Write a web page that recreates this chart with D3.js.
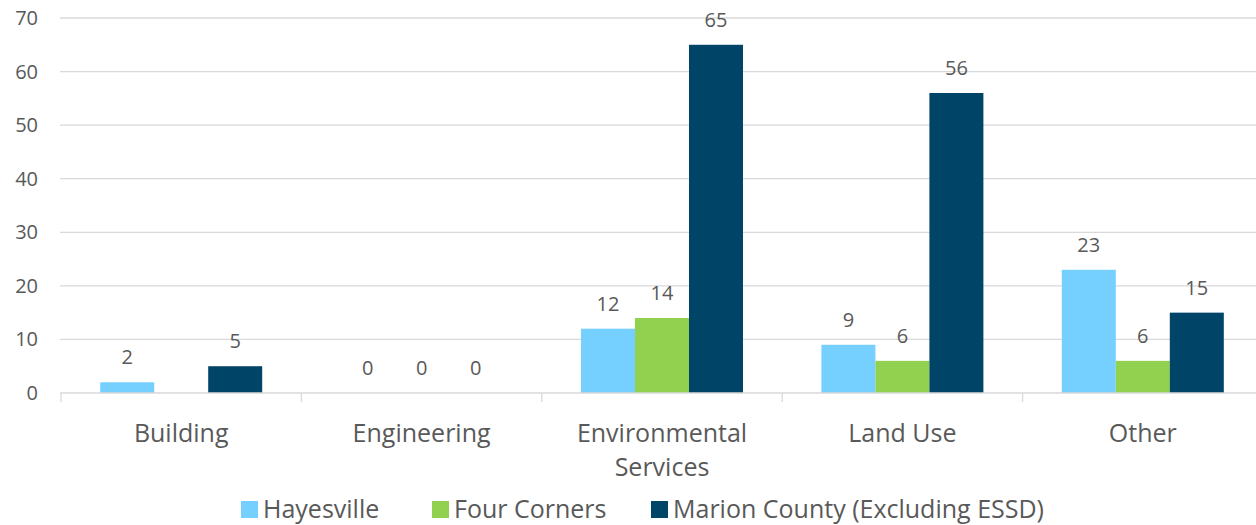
<!DOCTYPE html>
<html><head><meta charset="utf-8">
<script src="https://cdn.jsdelivr.net/npm/d3@7"></script>
<style>body{margin:0;background:#fff;} text{font-family:"Open Sans","Noto Sans",sans-serif;fill:#595959;}</style>
</head><body>
<svg id="c" width="1256" height="525"></svg>
<script>
const categories = [["Building"],["Engineering"],["Environmental","Services"],["Land Use"],["Other"]];
const series = ["Hayesville","Four Corners","Marion County (Excluding ESSD)"];
const hayesville = [2,0,12,9,23];
const fourCorners = [null,0,14,6,6];
const marion = [5,0,65,56,15];
const yTicks = [0,10,20,30,40,50,60,70];
const colors = ["#75D0FF","#92D050","#004468"];

(function(){
const svg = d3.select("#c");
const pLeft = 61, pRight = 1263, pTop = 18, pBottom = 393;
const x = d3.scaleBand().domain(d3.range(categories.length)).range([pLeft,pRight]).paddingInner(0).paddingOuter(0);
const y = d3.scaleLinear().domain([0,70]).range([pBottom,pTop]);
const gw = 162;
const xs = d3.scaleBand().domain(d3.range(series.length)).range([0,gw]);
const data = [hayesville,fourCorners,marion];

svg.append("g").selectAll("line").data(yTicks.filter(d=>d>0)).join("line")
  .attr("x1",pLeft-1).attr("x2",1256).attr("y1",d=>y(d)).attr("y2",d=>y(d))
  .attr("stroke","#d9d9d9").attr("stroke-width",1.3);
svg.append("g").selectAll("text").data(yTicks).join("text")
  .attr("x",38).attr("y",d=>y(d)+7).attr("text-anchor","end")
  .style("font-size","20px").text(d=>d);

data.forEach((vals,si)=>{
  const g = svg.append("g");
  vals.forEach((v,ci)=>{
    if(v===null) return;
    const bx = x(ci) + (x.bandwidth()-gw)/2 + xs(si);
    if(v>0) g.append("rect").attr("x",bx).attr("width",xs.bandwidth()).attr("y",y(v)).attr("height",y(0)-y(v)).attr("fill",colors[si]);
    g.append("text").attr("x",bx+xs.bandwidth()/2).attr("y",y(v)-18).attr("text-anchor","middle").style("font-size","20px").text(v);
  });
});

svg.append("line").attr("x1",pLeft-1).attr("x2",1256).attr("y1",pBottom).attr("y2",pBottom).attr("stroke","#d9d9d9").attr("stroke-width",1.3);
svg.append("g").selectAll("line").data(d3.range(categories.length)).join("line")
  .attr("x1",d=>x(d)).attr("x2",d=>x(d)).attr("y1",pBottom).attr("y2",pBottom+9).attr("stroke","#d9d9d9").attr("stroke-width",1.3);
const cl = svg.append("g").selectAll("text").data(categories).join("text")
  .attr("text-anchor","middle").style("font-size","25px");
cl.each(function(d,i){
  const t = d3.select(this);
  d.forEach((line,li)=>t.append("tspan").attr("x",x(i)+x.bandwidth()/2).attr("y",442+li*34).text(line));
});

const lx = [241,432,651];
series.forEach((s,i)=>{
  svg.append("rect").attr("x",lx[i]).attr("y",501).attr("width",17).attr("height",17).attr("fill",colors[i]);
  svg.append("text").attr("x",lx[i]+22).attr("y",518).style("font-size","25px").text(s);
});
})();
</script>
</body></html>
